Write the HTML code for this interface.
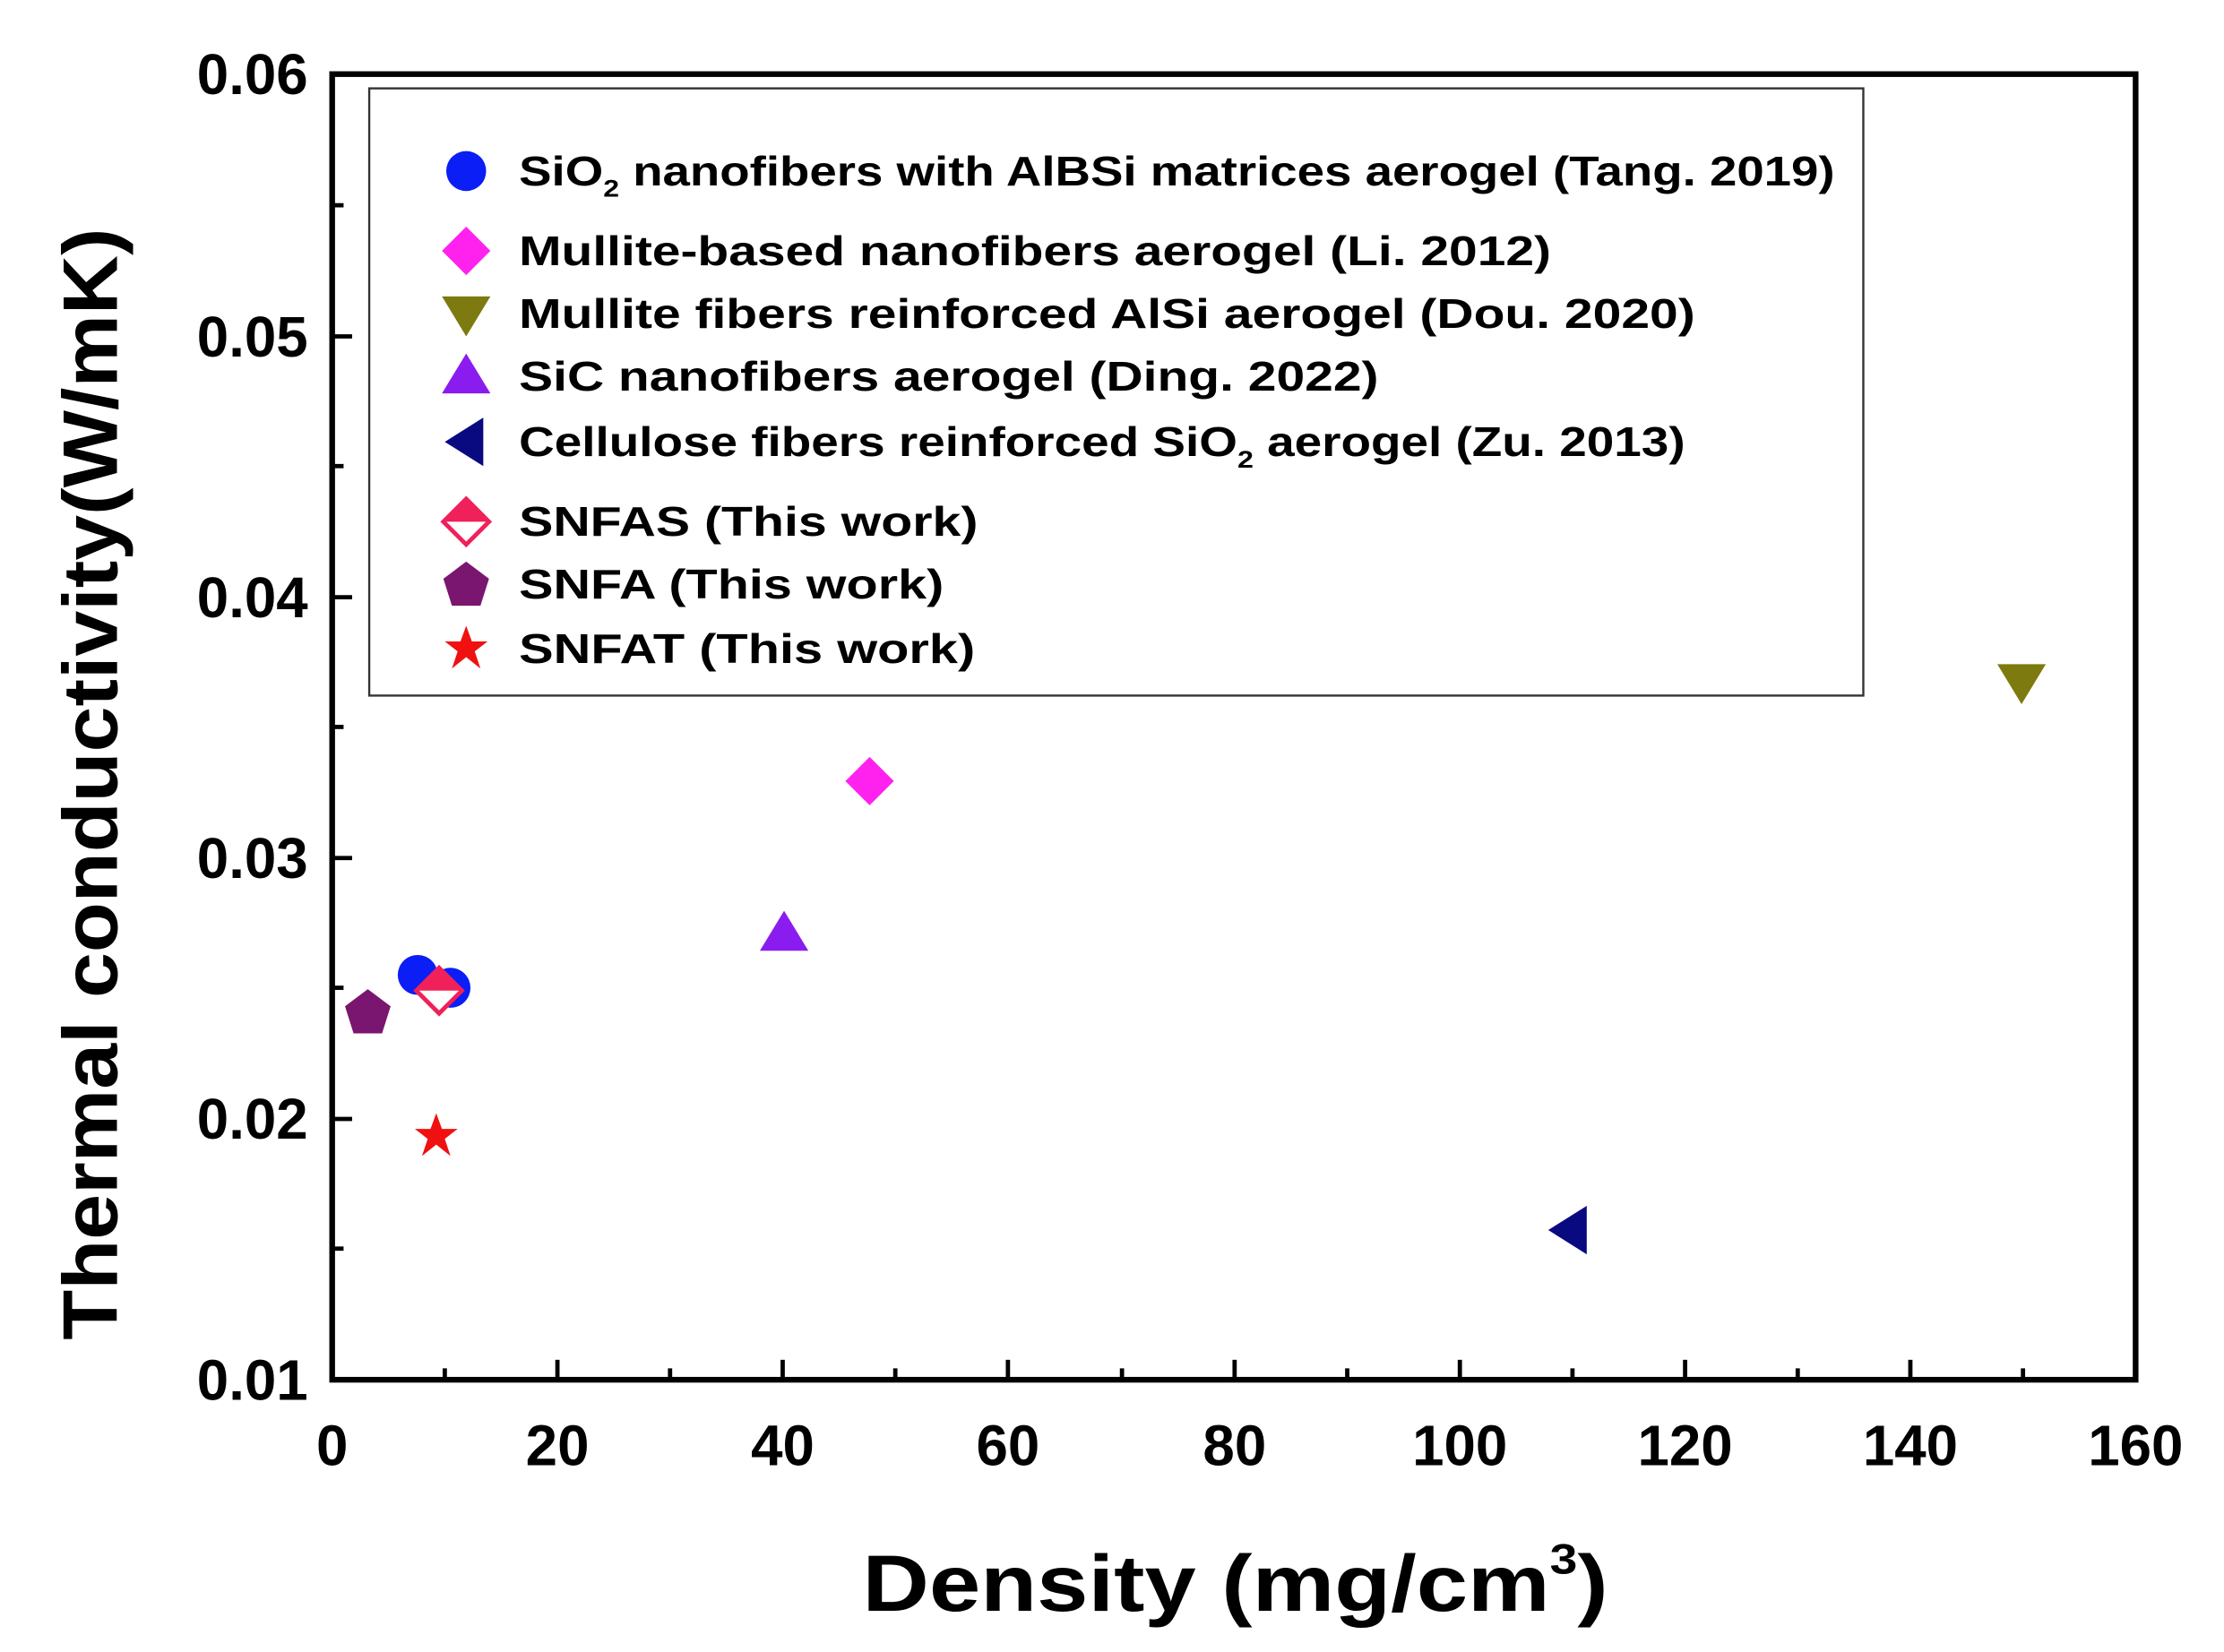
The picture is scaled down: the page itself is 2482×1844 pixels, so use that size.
<!DOCTYPE html>
<html><head><meta charset="utf-8"><style>html,body{margin:0;padding:0;background:#fff}svg{display:block}</style></head>
<body>
<svg width="2482" height="1844" viewBox="0 0 1560 1159" preserveAspectRatio="none" xmlns="http://www.w3.org/2000/svg" font-family="Liberation Sans, Arial, sans-serif" font-weight="bold">
<rect width="1560" height="1159" fill="#fff"/>
<rect x="233" y="52" width="1265" height="916" fill="none" stroke="#000" stroke-width="4"/>
<g stroke="#000" stroke-width="3">
<line x1="233" y1="785" x2="247" y2="785"/><line x1="233" y1="602" x2="247" y2="602"/><line x1="233" y1="419" x2="247" y2="419"/><line x1="233" y1="236" x2="247" y2="236"/>
<line x1="233" y1="876" x2="241" y2="876"/><line x1="233" y1="693" x2="241" y2="693"/><line x1="233" y1="510" x2="241" y2="510"/><line x1="233" y1="327" x2="241" y2="327"/><line x1="233" y1="144" x2="241" y2="144"/>
<line x1="391" y1="968" x2="391" y2="954"/><line x1="549" y1="968" x2="549" y2="954"/><line x1="707" y1="968" x2="707" y2="954"/><line x1="866" y1="968" x2="866" y2="954"/><line x1="1024" y1="968" x2="1024" y2="954"/><line x1="1182" y1="968" x2="1182" y2="954"/><line x1="1340" y1="968" x2="1340" y2="954"/>
<line x1="312" y1="968" x2="312" y2="960"/><line x1="470" y1="968" x2="470" y2="960"/><line x1="628" y1="968" x2="628" y2="960"/><line x1="787" y1="968" x2="787" y2="960"/><line x1="945" y1="968" x2="945" y2="960"/><line x1="1103" y1="968" x2="1103" y2="960"/><line x1="1261" y1="968" x2="1261" y2="960"/><line x1="1419" y1="968" x2="1419" y2="960"/>
</g>
<g font-size="40" text-anchor="end">
<text x="216" y="982">0.01</text><text x="216" y="799">0.02</text><text x="216" y="616">0.03</text><text x="216" y="433">0.04</text><text x="216" y="250">0.05</text><text x="216" y="66">0.06</text>
</g>
<g font-size="40" text-anchor="middle">
<text x="233" y="1028">0</text><text x="391" y="1028">20</text><text x="549" y="1028">40</text><text x="707" y="1028">60</text><text x="866" y="1028">80</text><text x="1024" y="1028">100</text><text x="1182" y="1028">120</text><text x="1340" y="1028">140</text><text x="1498" y="1028">160</text>
</g>
<text x="605" y="1130" font-size="56" textLength="523" lengthAdjust="spacingAndGlyphs">Density (mg/cm<tspan dy="-26" font-size="30">3</tspan><tspan dy="26">)</tspan></text>
<text transform="translate(82,550) rotate(-90)" font-size="54" text-anchor="middle" textLength="780" lengthAdjust="spacingAndGlyphs">Thermal conductivity(W/mK)</text>
<rect x="259" y="62" width="1048" height="426" fill="#fff" stroke="#333" stroke-width="1.5"/>
<g font-size="29">
<text x="364" y="130" textLength="923" lengthAdjust="spacingAndGlyphs">SiO<tspan dy="8" font-size="17">2</tspan><tspan dy="-8"> nanofibers with AlBSi matrices aerogel (Tang. 2019)</tspan></text>
<text x="364" y="186" textLength="724" lengthAdjust="spacingAndGlyphs">Mullite-based nanofibers aerogel (Li. 2012)</text>
<text x="364" y="230" textLength="825" lengthAdjust="spacingAndGlyphs">Mullite fibers reinforced AlSi aerogel (Dou. 2020)</text>
<text x="364" y="274" textLength="603" lengthAdjust="spacingAndGlyphs">SiC nanofibers aerogel (Ding. 2022)</text>
<text x="364" y="320" textLength="818" lengthAdjust="spacingAndGlyphs">Cellulose fibers reinforced SiO<tspan dy="8" font-size="17">2</tspan><tspan dy="-8"> aerogel (Zu. 2013)</tspan></text>
<text x="364" y="376" textLength="322" lengthAdjust="spacingAndGlyphs">SNFAS (This work)</text>
<text x="364" y="420" textLength="298" lengthAdjust="spacingAndGlyphs">SNFA (This work)</text>
<text x="364" y="465" textLength="320" lengthAdjust="spacingAndGlyphs">SNFAT (This work)</text>
</g>
<defs>
<g id="circ"><circle r="14" fill="#0a1ef5"/></g>
<g id="diam"><polygon points="0,-17 17,0 0,17 -17,0" fill="#ff22ee"/></g>
<g id="dtri"><polygon points="-17,-12 17,-12 0,16" fill="#7d7a10"/></g>
<g id="utri"><polygon points="-17,12 17,12 0,-16" fill="#8a1cf0"/></g>
<g id="ltri"><polygon points="-15,0 12,-17 12,17" fill="#0a0a80"/></g>
<g id="hdiam"><polygon points="0,-16 16,0 0,16 -16,0" fill="#fff" stroke="#f0205a" stroke-width="3"/><polygon points="0,-16 16,0 -16,0" fill="#f0205a"/></g>
<g id="pent"><polygon points="0,-16 16,-4 10,15 -10,15 -16,-4" fill="#7a1670"/></g>
<g id="star"><polygon points="0,-16 4,-5 15,-5 6,2 10,14 0,6 -10,14 -6,2 -15,-5 -4,-5" fill="#f01010"/></g>
</defs>
<use href="#circ" x="327" y="120"/>
<use href="#diam" x="327" y="176"/>
<use href="#dtri" x="327" y="220"/>
<use href="#utri" x="327" y="264"/>
<use href="#ltri" x="327" y="310"/>
<use href="#hdiam" x="327" y="366"/>
<use href="#pent" x="327" y="410"/>
<use href="#star" x="327" y="455"/>
<use href="#circ" x="293" y="684"/>
<use href="#circ" x="316" y="693"/>
<use href="#diam" x="610" y="548"/>
<use href="#dtri" x="1418" y="478"/>
<use href="#utri" x="550" y="655"/>
<use href="#ltri" x="1101" y="863"/>
<use href="#hdiam" x="308" y="695"/>
<use href="#pent" x="258" y="710"/>
<use href="#star" x="306" y="797"/>
</svg>
</body></html>
